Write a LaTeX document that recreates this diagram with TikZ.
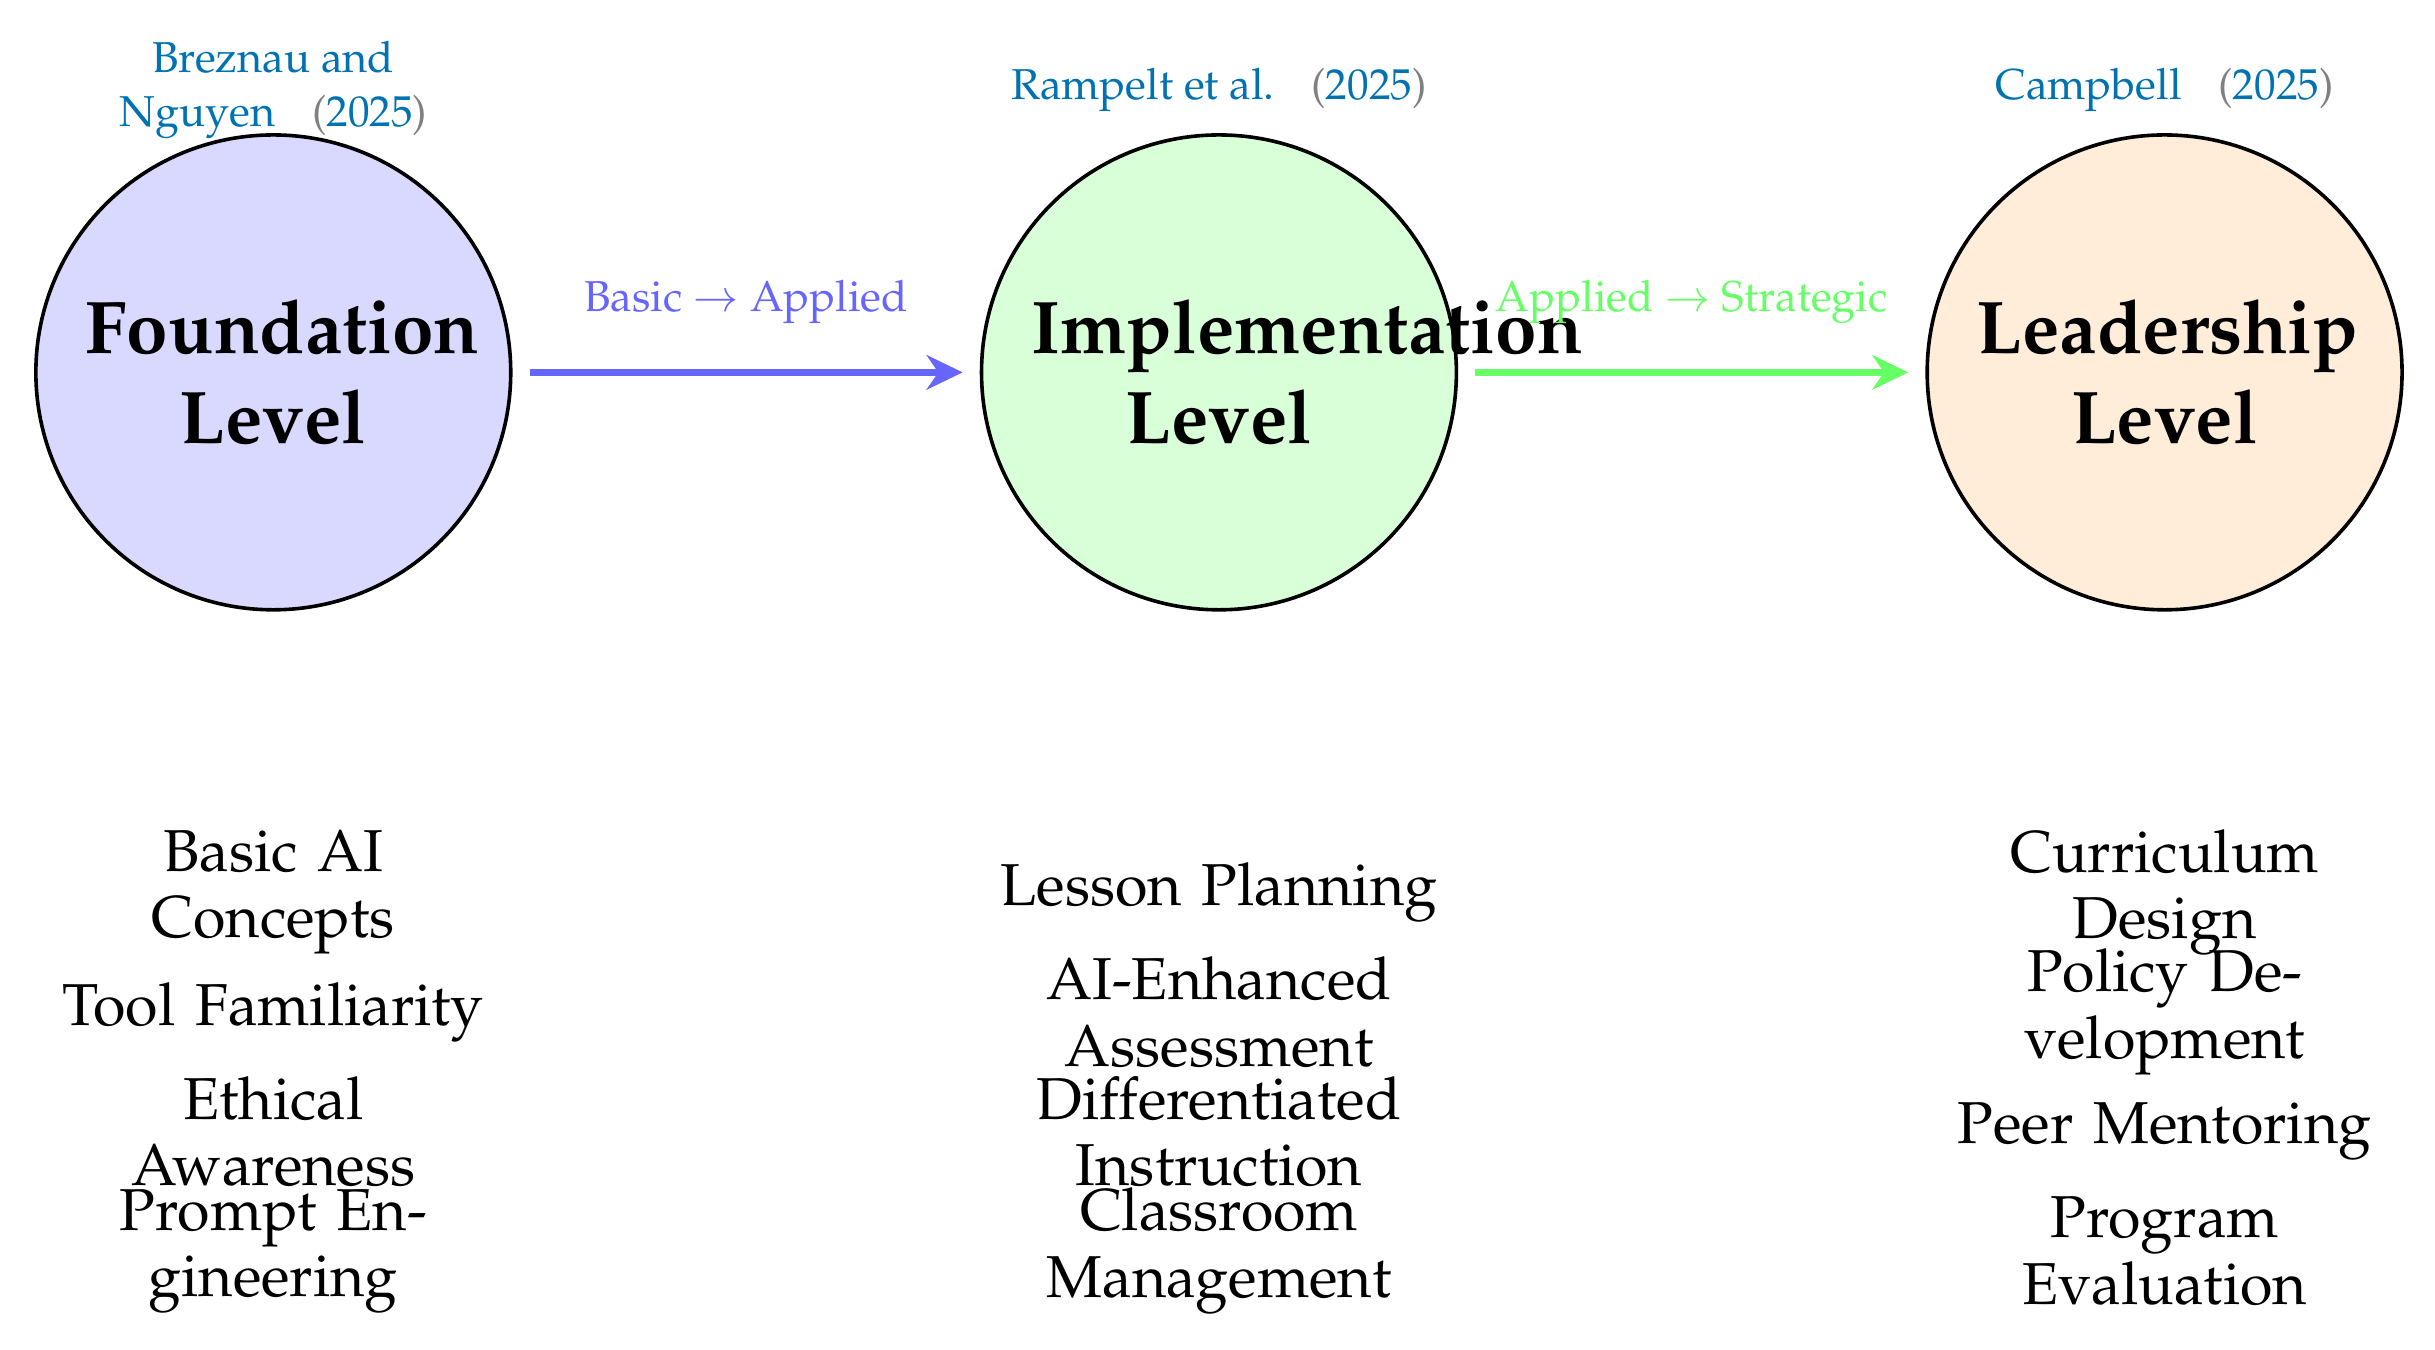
\documentclass[tikz,border=0pt]{standalone}
\usepackage[T1]{fontenc}
\usepackage{mathpazo}
\usetikzlibrary{arrows.meta,positioning,calc}
\definecolor{citeblue}{RGB}{0,114,178}
\newcommand{\citeyr}[1]{{\color{gray}(}#1{\color{gray})}}

\begin{document}
\begin{tikzpicture}[
  level/.style={circle, draw, very thick, minimum size=5.56cm, text width=4.4cm, align=center, font=\Huge\bfseries},
  ref/.style={align=center, font=\Large, text=citeblue},
  item/.style={text width=5.2cm, align=center, font=\fontsize{19.7pt}{22.2pt}\selectfont},
  flow/.style={line width=2.4pt, -{Stealth[length=12pt,width=11.5pt]}, shorten <=0.2cm, shorten >=0.2cm},
  lbl/.style={font=\Large, above=0.41cm}
]
\useasboundingbox (-3.20,-11.44) rectangle (25.31,4.36);

% the three levels
\node[level, fill=blue!15] (found) at (0,0) {Foundation Level};
\node[level, fill=green!15, right=5.47cm of found] (impl) {Implementation Level};
\node[level, fill=orange!15, right=5.47cm of impl] (lead) {Leadership Level};

% sources
\node[ref] (cfound) at ($(found)+(0,3.31)$) {Breznau and\\Nguyen\hspace{0.85em}\citeyr{2025}};
\node[ref] (cimpl) at ($(impl)+(0,3.31)$) {Rampelt et al.\hspace{0.85em}\citeyr{2025}};
\node[ref] (clead) at ($(lead)+(0,3.31)$) {Campbell\hspace{0.85em}\citeyr{2025}};

% progression
\draw[flow, blue!60] (found) -- node[lbl] {Basic $\rightarrow$ Applied} (impl);
\draw[flow, green!60] (impl) -- node[lbl] {Applied $\rightarrow$ Strategic} (lead);

% competencies
\foreach \txt [count=\i] in {Basic AI Concepts, Tool Familiarity, Ethical Awareness, Prompt Engineering}
  \path (found) ++(0,{-4.69-1.4*\i}) node[item] (f\i) {\txt};
\foreach \txt [count=\i] in {Lesson Planning, AI-Enhanced Assessment, Differentiated Instruction, Classroom Management}
  \path (impl) ++(0,{-4.69-1.4*\i}) node[item] (m\i) {\txt};
\foreach \txt [count=\i] in {Curriculum Design, Policy Development, Peer Mentoring, Program Evaluation}
  \path (lead) ++(0,{-4.69-1.4*\i}) node[item] (l\i) {\txt};
\end{tikzpicture}
\end{document}
